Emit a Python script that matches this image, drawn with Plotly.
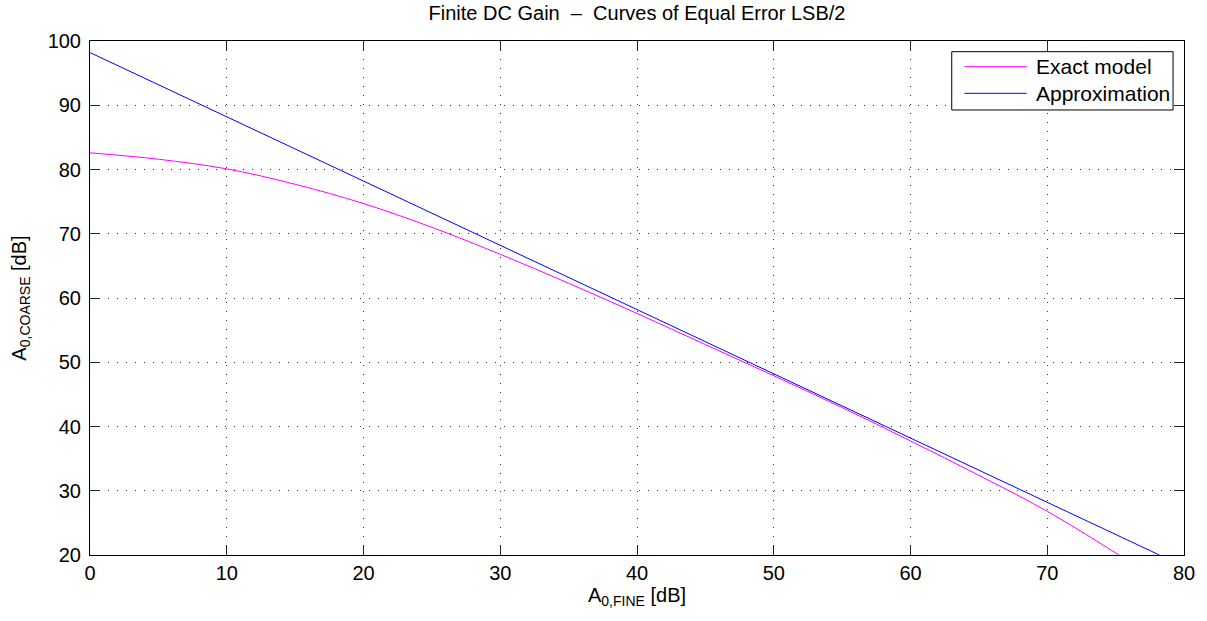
import plotly.graph_objects as go

# Equal-error curve (LSB/2): coarse-stage gain needed for a given fine-stage gain
a0_fine_exact = [0, 5, 10, 15, 20, 25, 30, 35, 40, 45, 50, 55, 60, 65, 70, 75.24]
a0_coarse_exact = [82.6, 81.6, 80.1, 77.7, 74.7, 71.0, 66.8, 62.3, 57.6, 52.75,
                   47.9, 42.95, 37.75, 32.4, 26.8, 20.0]

# First-order approximation: A_coarse + A_fine = const (in dB)
a0_fine_approx = [0, 78.2]
a0_coarse_approx = [98.2, 20.0]

legend_names = ["Exact model", "Approximation"]
colors = ["#ff00ff", "#0000ff"]

FONT = "Liberation Sans, Arial, Helvetica, sans-serif"

fig = go.Figure()
fig.add_trace(go.Scatter(x=a0_fine_exact, y=a0_coarse_exact, mode="lines",
                         name=legend_names[0], showlegend=False,
                         line=dict(color=colors[0], width=1, shape="spline", smoothing=1)))
fig.add_trace(go.Scatter(x=a0_fine_approx, y=a0_coarse_approx, mode="lines",
                         name=legend_names[1], showlegend=False,
                         line=dict(color=colors[1], width=1)))

axis_common = dict(
    showline=True, linecolor="black", linewidth=1, mirror="ticks",
    ticks="inside", ticklen=10, tickcolor="#262626", tickwidth=1,
    showgrid=True, gridcolor="#333333", gridwidth=1, griddash="1px,8px",
    zeroline=False, dtick=10,
    tickfont=dict(family=FONT, size=20, color="black"),
)

fig.update_xaxes(range=[0, 80], tick0=0,
                 title=dict(text="A<sub>0,FINE</sub> [dB]", standoff=4,
                            font=dict(family=FONT, size=20, color="black")),
                 **axis_common)
fig.update_yaxes(range=[20, 100], tick0=20, ticklabelstandoff=4,
                 title=dict(text="A<sub>0,COARSE</sub> [dB]", standoff=15,
                            font=dict(family=FONT, size=20, color="black")),
                 **axis_common)

# Boxed legend in the upper-right corner of the axes
lx0, lx1, ly0, ly1 = 0.7877, 0.9900, 0.8658, 0.9792
seg_x0, seg_x1, txt_x = 0.7993, 0.8562, 0.8629
row_y = [0.9500, 0.8982]
shapes = [dict(type="rect", xref="paper", yref="paper", x0=lx0, x1=lx1, y0=ly0, y1=ly1,
               line=dict(color="black", width=1), fillcolor="white", layer="above")]
annotations = []
for name, col, yy in zip(legend_names, colors, row_y):
    shapes.append(dict(type="line", xref="paper", yref="paper", x0=seg_x0, x1=seg_x1,
                       y0=yy, y1=yy, line=dict(color=col, width=1), layer="above"))
    annotations.append(dict(xref="paper", yref="paper", x=txt_x, y=yy, text=name,
                            showarrow=False, xanchor="left", yanchor="middle",
                            font=dict(family=FONT, size=21, color="black")))

fig.update_layout(
    width=1207, height=621,
    margin=dict(l=90, r=16, t=41, b=66),
    paper_bgcolor="white", plot_bgcolor="white",
    title=dict(text="Finite DC Gain  \u2013  Curves of Equal Error LSB/2",
               x=0.5, xref="paper", xanchor="center",
               y=1 - 13 / 621, yref="container", yanchor="middle",
               font=dict(family=FONT, size=20, color="black")),
    shapes=shapes, annotations=annotations,
    showlegend=False,
)

fig.write_html("out.html")
